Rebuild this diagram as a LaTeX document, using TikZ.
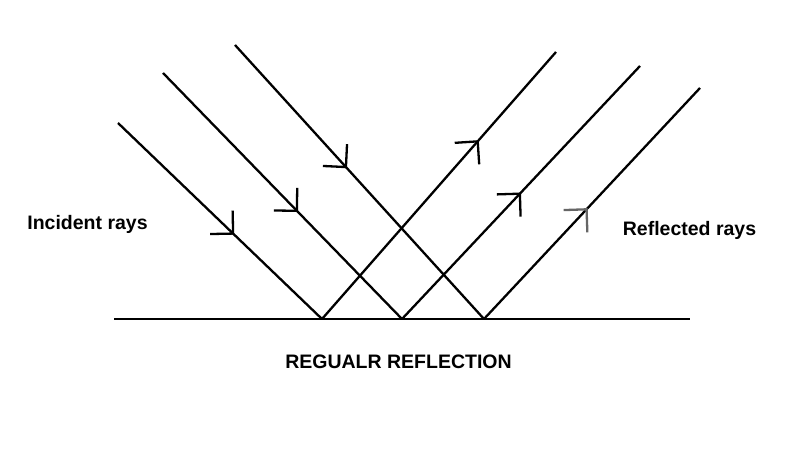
\documentclass[tikz,border=0pt]{standalone}
\usepackage{fontspec}
\setmainfont{Liberation Sans}
\usetikzlibrary{arrows.meta, positioning, decorations.markings}

\begin{document}
\begin{tikzpicture}[
    x=1pt, y=1pt,
    beam/.style={line width=2.3pt},
    midarr/.style n args={2}{decoration={markings, mark=at position #1 with {\arrow[#2]{Straight Barb[angle=90:23pt, line width=2.3pt]}}}, postaction=decorate},
    lbl/.style={font=\fontsize{19.5}{22}\selectfont\bfseries},
]
\useasboundingbox (0,0) rectangle (805,454);
% === Mirror and hit points ===
\coordinate (m1) at (114,135);
\coordinate (m2) at (690,135);
\coordinate (h1) at (322,135);
\coordinate (h2) at (402,135);
\coordinate (h3) at (484,135);
\draw[line width=2.8pt] (m1) -- (m2);
% === Incident rays ===
\coordinate (i1) at (118,331);
\coordinate (i2) at (163,381);
\coordinate (i3) at (235,409);
\draw[beam, midarr={0.57}{black}] (i1) -- (h1);
\draw[beam, midarr={0.565}{black}] (i2) -- (h2);
\draw[beam, midarr={0.45}{black}] (i3) -- (h3);
% === Reflected rays ===
\coordinate (r1) at (556,402);
\coordinate (r2) at (640,388);
\coordinate (r3) at (700,366);
\draw[beam, midarr={0.67}{black}] (h1) -- (r1);
\draw[beam, midarr={0.50}{black}] (h2) -- (r2);
\draw[beam, midarr={0.48}{black!60}] (h3) -- (r3);
% === Labels ===
\node[lbl] (inc) at (87.5,230) {Incident rays};
\node[lbl] (refl) at (689.5,224) {Reflected rays};
\node[lbl] (title) at (398.5,92) {REGUALR REFLECTION};
\end{tikzpicture}
\end{document}
